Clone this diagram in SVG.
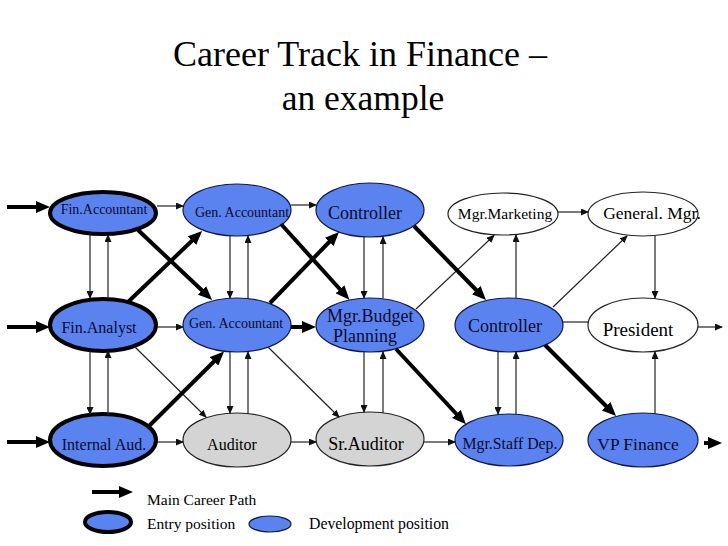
<svg xmlns="http://www.w3.org/2000/svg" width="728" height="546" viewBox="0 0 728 546">
<style>
text{font-family:"Liberation Serif","Times New Roman",serif;fill:#000}
.t{fill:#0a0a30}
.blue{fill:#5b83ef;stroke:#10184a;stroke-width:1.2}
.entry{fill:#5b83ef;stroke:#000;stroke-width:4}
.gray{fill:#d4d4d4;stroke:#222;stroke-width:1.2}
.white{fill:#fff;stroke:#222;stroke-width:1.2}
.thin{stroke:#222;stroke-width:1.2;fill:none;marker-end:url(#ta)}
.plain{stroke:#222;stroke-width:1.2;fill:none}
.thick{stroke:#000;stroke-width:4;fill:none;marker-end:url(#ka)}
</style>
<defs>
<marker id="ta" viewBox="0 0 8 7" refX="7" refY="3.5" markerWidth="8" markerHeight="7" markerUnits="userSpaceOnUse" orient="auto"><path d="M0,0 L8,3.5 L0,7 z" fill="#111"/></marker>
<marker id="ka" viewBox="0 0 14 12" refX="9" refY="6" markerWidth="14" markerHeight="12" markerUnits="userSpaceOnUse" orient="auto"><path d="M0,0 L14,6 L0,12 z" fill="#000"/></marker>
</defs>
<rect width="728" height="546" fill="#fff"/>
<g id="title">
<text x="360" y="66" font-size="36" text-anchor="middle">Career Track in Finance –</text>
<text x="363" y="110" font-size="35.5" text-anchor="middle">an example</text>
</g>
<g id="n1"><ellipse class="entry" cx="103" cy="213" rx="53" ry="21"/><text class="t" x="104" y="214" font-size="14" text-anchor="middle">Fin.Accountant</text></g>
<g id="n2"><ellipse class="blue" cx="237" cy="210" rx="54" ry="26"/><text class="t" x="195" y="217" font-size="14">Gen. Accountant</text></g>
<g id="n3"><ellipse class="blue" cx="370" cy="210" rx="54" ry="27"/><text class="t" x="365" y="219" font-size="18" text-anchor="middle">Controller</text></g>
<g id="n4"><ellipse class="white" cx="503" cy="214" rx="55" ry="21"/><text x="505" y="219" font-size="15.5" text-anchor="middle">Mgr.Marketing</text></g>
<g id="n5"><ellipse class="white" cx="643" cy="214" rx="55" ry="22"/><text x="652" y="219" font-size="17.5" text-anchor="middle">General. Mgr.</text></g>
<g id="n6"><ellipse class="entry" cx="103" cy="325" rx="53" ry="26"/><text class="t" x="99" y="333" font-size="16" text-anchor="middle">Fin.Analyst</text></g>
<g id="n7"><ellipse class="blue" cx="237" cy="325" rx="54" ry="27"/><text class="t" x="236" y="328" font-size="14" text-anchor="middle">Gen. Accountant</text></g>
<g id="n8"><ellipse class="blue" cx="370" cy="325" rx="54" ry="27"/><text class="t" x="327" y="322" font-size="18">Mgr.Budget</text><text class="t" x="333" y="342" font-size="18">Planning</text></g>
<g id="n9"><ellipse class="blue" cx="509" cy="325" rx="54" ry="27"/><text class="t" x="505" y="332" font-size="18" text-anchor="middle">Controller</text></g>
<g id="n10"><ellipse class="white" cx="643" cy="325" rx="55" ry="27"/><text x="638" y="336" font-size="19" text-anchor="middle">President</text></g>
<g id="n11"><ellipse class="entry" cx="103" cy="440" rx="53" ry="26"/><text class="t" x="104" y="450" font-size="16" text-anchor="middle">Internal Aud.</text></g>
<g id="n12"><ellipse class="gray" cx="237" cy="440" rx="54" ry="27"/><text x="232" y="450" font-size="16" text-anchor="middle">Auditor</text></g>
<g id="n13"><ellipse class="gray" cx="370" cy="439" rx="54" ry="27"/><text x="366" y="450" font-size="18" text-anchor="middle">Sr.Auditor</text></g>
<g id="n14"><ellipse class="blue" cx="509" cy="440" rx="54" ry="26"/><text class="t" x="510" y="449" font-size="15.8" text-anchor="middle">Mgr.Staff Dep.</text></g>
<g id="n15"><ellipse class="blue" cx="643" cy="440" rx="55" ry="27"/><text class="t" x="638" y="450" font-size="17.5" text-anchor="middle">VP Finance</text></g>
<g id="connectors">
<line class="thick" x1="7" y1="207" x2="45" y2="207"/>
<line class="thick" x1="7" y1="327" x2="45" y2="327"/>
<line class="thick" x1="7" y1="442" x2="45" y2="442"/>
<line class="thin" x1="157" y1="206" x2="183" y2="206"/>
<line class="thin" x1="291" y1="205" x2="316" y2="205"/>
<line class="thin" x1="558" y1="212" x2="588" y2="212"/>
<line class="thin" x1="157" y1="327" x2="183" y2="327"/>
<line class="thick" x1="291" y1="327" x2="311" y2="327"/>
<line class="plain" x1="563" y1="322" x2="588" y2="322"/>
<line class="thin" x1="698" y1="327" x2="722" y2="327"/>
<line class="thin" x1="157" y1="442" x2="183" y2="442"/>
<line class="thin" x1="291" y1="442" x2="316" y2="442"/>
<line class="thin" x1="424" y1="442" x2="455" y2="442"/>
<line class="thick" x1="704" y1="443" x2="717" y2="443"/>
<line class="thin" x1="90" y1="234" x2="90" y2="298"/>
<line class="thin" x1="108" y1="299" x2="108" y2="235"/>
<line class="thin" x1="90" y1="350" x2="90" y2="414"/>
<line class="thin" x1="108" y1="415" x2="108" y2="351"/>
<line class="thin" x1="230" y1="236" x2="230" y2="298"/>
<line class="thin" x1="248" y1="299" x2="248" y2="236"/>
<line class="thin" x1="230" y1="352" x2="230" y2="413"/>
<line class="thin" x1="248" y1="414" x2="248" y2="352"/>
<line class="thin" x1="364" y1="237" x2="364" y2="298"/>
<line class="thin" x1="383" y1="298.5" x2="383" y2="237"/>
<line class="thin" x1="364" y1="352" x2="364" y2="412"/>
<line class="thin" x1="383" y1="413" x2="383" y2="352"/>
<line class="thin" x1="498" y1="352" x2="498" y2="414"/>
<line class="thin" x1="516" y1="414" x2="516" y2="352"/>
<line class="thin" x1="516" y1="298" x2="516" y2="235"/>
<line class="thin" x1="655" y1="236" x2="655" y2="298"/>
<line class="thin" x1="655" y1="413.5" x2="655" y2="352"/>
<line class="thin" x1="135" y1="347" x2="206" y2="417"/>
<line class="thin" x1="268" y1="347" x2="339" y2="417"/>
<line class="thin" x1="416" y1="309" x2="494" y2="235.5"/>
<line class="thin" x1="553" y1="307" x2="627" y2="236"/>
<line class="thick" x1="138" y1="230" x2="208.5" y2="296.5"/>
<line class="thick" x1="128" y1="302" x2="198.5" y2="234.5"/>
<line class="thick" x1="148" y1="427" x2="220.5" y2="355"/>
<line class="thick" x1="281" y1="224" x2="346" y2="296"/>
<line class="thick" x1="270" y1="303" x2="335.5" y2="235.5"/>
<line class="thick" x1="414" y1="226" x2="482.5" y2="296.5"/>
<line class="thick" x1="396" y1="349" x2="462.5" y2="420.5"/>
<line class="thick" x1="545" y1="345" x2="612.5" y2="412.5"/>
</g>
<g id="legend">
<line class="thick" x1="92" y1="492" x2="128" y2="492"/>
<text x="147" y="505" font-size="15.5">Main Career Path</text>
<ellipse class="entry" cx="108" cy="522" rx="23" ry="10"/>
<text x="147" y="529" font-size="15.5">Entry position</text>
<ellipse class="blue" cx="270" cy="524" rx="21" ry="8"/>
<text x="309" y="529" font-size="15.8">Development position</text>
</g>
</svg>
